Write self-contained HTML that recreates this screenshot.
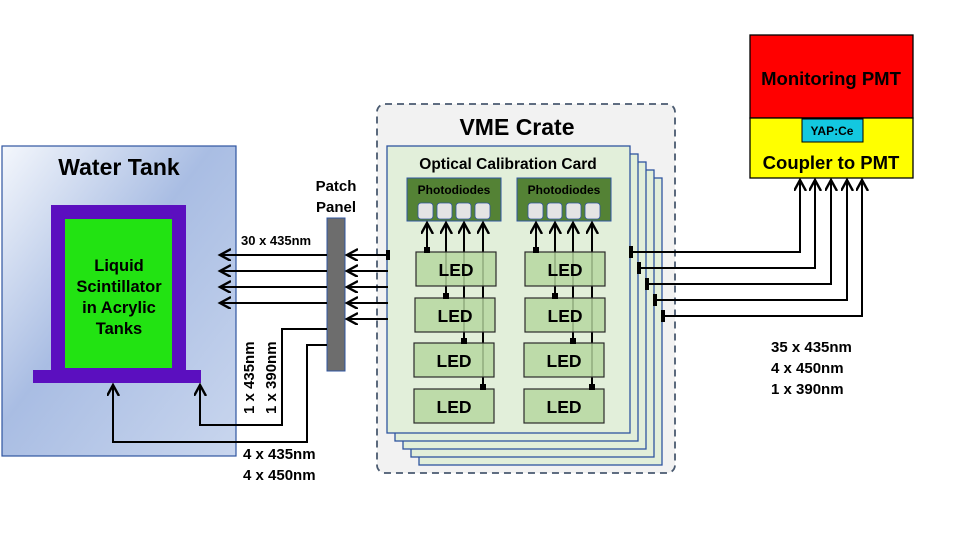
<!DOCTYPE html>
<html><head><meta charset="utf-8"><style>
html,body{margin:0;padding:0;background:#fff;}
svg{display:block;font-family:"Liberation Sans",sans-serif;font-weight:bold;}
</style></head><body>
<svg width="960" height="540" viewBox="0 0 960 540" xmlns="http://www.w3.org/2000/svg">
<defs>
<linearGradient id="wt" x1="0" y1="0" x2="1" y2="1">
<stop offset="0" stop-color="#f4f7fc"/><stop offset="0.45" stop-color="#a9bde3"/><stop offset="1" stop-color="#c9d6ee"/>
</linearGradient>
<marker id="ah" markerWidth="14" markerHeight="14" refX="11" refY="6" orient="auto" markerUnits="userSpaceOnUse">
<path d="M0,0 L11,6 L0,12 M11,6" fill="none" stroke="#000" stroke-width="2.4"/>
</marker>
</defs>
<!-- Water tank -->
<rect x="2" y="146" width="234" height="310" fill="url(#wt)" stroke="#2f55a0" stroke-width="1.2"/>
<text x="119" y="175" font-size="23" text-anchor="middle">Water Tank</text>
<rect x="51" y="205" width="135" height="170" fill="#5b0fbf"/>
<rect x="33" y="370" width="168" height="13" fill="#5b0fbf"/>
<rect x="65" y="219" width="107" height="149" fill="#22e312"/>
<g font-size="16.5" text-anchor="middle">
<text x="119" y="271">Liquid</text><text x="119" y="292">Scintillator</text>
<text x="119" y="313">in Acrylic</text><text x="119" y="334">Tanks</text>
</g>
<!-- VME crate -->
<rect x="377" y="104" width="298" height="369" rx="8" fill="#f2f2f2" stroke="#4a5a70" stroke-width="1.8" stroke-dasharray="7,5"/>
<text x="517" y="135" font-size="23" text-anchor="middle">VME Crate</text>
<g fill="#e2efda" stroke="#2f55a0" stroke-width="1.3">
<rect x="419" y="178" width="243" height="287"/>
<rect x="411" y="170" width="243" height="287"/>
<rect x="403" y="162" width="243" height="287"/>
<rect x="395" y="154" width="243" height="287"/>
<rect x="387" y="146" width="243" height="287"/>
</g>
<text x="508" y="169" font-size="15.5" text-anchor="middle">Optical Calibration Card</text>
<g>
<rect x="407" y="178" width="94" height="43" fill="#548235" stroke="#2f55a0"/>
<rect x="517" y="178" width="94" height="43" fill="#548235" stroke="#2f55a0"/>
<text x="454" y="194" font-size="12" text-anchor="middle">Photodiodes</text>
<text x="564" y="194" font-size="12" text-anchor="middle">Photodiodes</text>
<g fill="#e4e4e4" stroke="#2f55a0" stroke-width="0.8">
<rect x="418" y="203" width="15" height="16" rx="3"/><rect x="437" y="203" width="15" height="16" rx="3"/>
<rect x="456" y="203" width="15" height="16" rx="3"/><rect x="475" y="203" width="15" height="16" rx="3"/>
<rect x="528" y="203" width="15" height="16" rx="3"/><rect x="547" y="203" width="15" height="16" rx="3"/>
<rect x="566" y="203" width="15" height="16" rx="3"/><rect x="585" y="203" width="15" height="16" rx="3"/>
</g>
</g>
<g stroke="#000" stroke-width="2" marker-end="url(#ah)">
<line x1="427" y1="249" x2="427" y2="223"/><line x1="446" y1="295" x2="446" y2="223"/>
<line x1="464" y1="340" x2="464" y2="223"/><line x1="483" y1="386" x2="483" y2="223"/>
<line x1="536" y1="249" x2="536" y2="223"/><line x1="555" y1="295" x2="555" y2="223"/>
<line x1="573" y1="340" x2="573" y2="223"/><line x1="592" y1="386" x2="592" y2="223"/>
</g>
<g fill="#b6d7a0" fill-opacity="0.85" stroke="#2b2b2b" stroke-width="1.2">
<rect x="416" y="252" width="80" height="34"/><rect x="415" y="298" width="80" height="34"/>
<rect x="414" y="343" width="80" height="34"/><rect x="414" y="389" width="80" height="34"/>
<rect x="525" y="252" width="80" height="34"/><rect x="525" y="298" width="80" height="34"/>
<rect x="524" y="343" width="80" height="34"/><rect x="524" y="389" width="80" height="34"/>
</g>
<g font-size="17.5" text-anchor="middle">
<text x="456" y="276">LED</text><text x="455" y="322">LED</text><text x="454" y="367">LED</text><text x="454" y="413">LED</text>
<text x="565" y="276">LED</text><text x="565" y="322">LED</text><text x="564" y="367">LED</text><text x="564" y="413">LED</text>
</g>
<g fill="#000">
<rect x="424" y="247" width="6" height="6"/><rect x="443" y="293" width="6" height="6"/>
<rect x="461" y="338" width="6" height="6"/><rect x="480" y="384" width="6" height="6"/>
<rect x="533" y="247" width="6" height="6"/><rect x="552" y="293" width="6" height="6"/>
<rect x="570" y="338" width="6" height="6"/><rect x="589" y="384" width="6" height="6"/>
</g>
<!-- Patch panel -->
<text x="336" y="191" font-size="15" text-anchor="middle">Patch</text>
<text x="336" y="212" font-size="15" text-anchor="middle">Panel</text>
<rect x="327" y="218" width="18" height="153" fill="#6d6d6d" stroke="#2f55a0"/>
<g stroke="#000" stroke-width="2" marker-end="url(#ah)">
<line x1="327" y1="255" x2="220" y2="255"/><line x1="327" y1="271" x2="220" y2="271"/>
<line x1="327" y1="287" x2="220" y2="287"/><line x1="327" y1="303" x2="220" y2="303"/>
<line x1="388" y1="255" x2="347" y2="255"/><line x1="388" y1="271" x2="347" y2="271"/>
<line x1="388" y1="287" x2="347" y2="287"/><line x1="388" y1="303" x2="347" y2="303"/>
<line x1="388" y1="319" x2="347" y2="319"/>
<polyline points="327,329 282,329 282,425 200,425 200,385" fill="none"/>
<polyline points="327,345 307,345 307,442 113,442 113,385" fill="none"/>
</g>
<rect x="386" y="250" width="4" height="10" fill="#000"/>
<text x="241" y="245" font-size="13">30 x 435nm</text>
<text transform="translate(254,414) rotate(-90)" font-size="15">1 x 435nm</text>
<text transform="translate(276,414) rotate(-90)" font-size="15">1 x 390nm</text>
<text x="243" y="459" font-size="15">4 x 435nm</text>
<text x="243" y="480" font-size="15">4 x 450nm</text>
<!-- PMT -->
<rect x="750" y="35" width="163" height="83" fill="#ff0000" stroke="#000" stroke-width="1.3"/>
<rect x="750" y="118" width="163" height="60" fill="#ffff00" stroke="#000" stroke-width="1.3"/>
<rect x="802" y="119" width="61" height="23" fill="#13c8e0" stroke="#000" stroke-width="1"/>
<text x="831" y="85" font-size="18.5" text-anchor="middle">Monitoring PMT</text>
<text x="832" y="135" font-size="12" text-anchor="middle">YAP:Ce</text>
<text x="831" y="169" font-size="18.5" text-anchor="middle">Coupler to PMT</text>
<g stroke="#000" stroke-width="2" fill="none" marker-end="url(#ah)">
<polyline points="631,252 800,252 800,180"/><polyline points="639,268 815,268 815,180"/>
<polyline points="647,284 831,284 831,180"/><polyline points="655,300 847,300 847,180"/>
<polyline points="663,316 862,316 862,180"/>
</g>
<g fill="#000">
<rect x="629" y="246" width="4" height="12"/><rect x="637" y="262" width="4" height="12"/>
<rect x="645" y="278" width="4" height="12"/><rect x="653" y="294" width="4" height="12"/>
<rect x="661" y="310" width="4" height="12"/>
</g>
<g font-size="15"><text x="771" y="352">35 x 435nm</text><text x="771" y="373">4 x 450nm</text><text x="771" y="394">1 x 390nm</text></g>
</svg>
</body></html>
